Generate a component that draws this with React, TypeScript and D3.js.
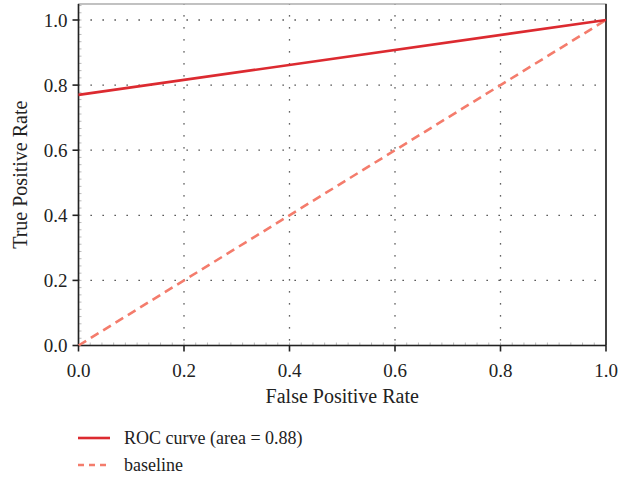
import React from "react";
import * as d3 from "d3";

// ROC curve endpoints (false positive rate, true positive rate)
const rocFpr = [0, 1];
const rocTpr = [0.77, 1];
const baseFpr = [0, 1];
const baseTpr = [0, 1];
const xTicks = [0, 0.2, 0.4, 0.6, 0.8, 1.0];
const yTicks = [0, 0.2, 0.4, 0.6, 0.8, 1.0];
const legendLabels = ["ROC curve (area = 0.88)", "baseline"];

const W = 634;
const H = 478;
const m = { left: 78.5, right: 606, top: 4, bottom: 345.5 };
const FONT = "'Liberation Serif', 'DejaVu Serif', serif";

export default function App() {
  const x = d3.scaleLinear().domain([0, 1]).range([m.left, m.right]);
  const y = d3.scaleLinear().domain([0, 1]).range([m.bottom, 20]);
  const line = d3
    .line<[number, number]>()
    .x((d) => x(d[0]))
    .y((d) => y(d[1]));

  const roc = rocFpr.map((v, i) => [v, rocTpr[i]] as [number, number]);
  const base = baseFpr.map((v, i) => [v, baseTpr[i]] as [number, number]);

  // minor ticks, 9 per major interval
  const minor = d3.range(0, 1.0001, 0.2 / 9);
  const yTop = y.invert(m.top);

  return (
    <svg
      width={W}
      height={H}
      style={{ position: "absolute", left: 0, top: 0, background: "#fff" }}
      fontFamily={FONT}
    >
      {/* grid */}
      {xTicks.slice(1, -1).map((t) => (
        <line
          key={"gx" + t}
          x1={x(t)}
          x2={x(t)}
          y1={m.bottom}
          y2={m.top}
          stroke="#333"
          strokeWidth={1.3}
          strokeDasharray="1.3 10.7"
          strokeDashoffset={-5}
        />
      ))}
      {yTicks.slice(1).map((t) => (
        <line
          key={"gy" + t}
          x1={m.left}
          x2={m.right}
          y1={y(t)}
          y2={y(t)}
          stroke="#333"
          strokeWidth={1.3}
          strokeDasharray="1.3 10.7"
          strokeDashoffset={-12}
        />
      ))}

      {/* minor ticks */}
      {minor.map((t, i) => (
        <line key={"mx" + i} x1={x(t)} x2={x(t)} y1={m.bottom} y2={m.bottom - 3} stroke="#bbb" strokeWidth={1} />
      ))}
      {d3.range(0, yTop, 0.2 / 9).map((t, i) => (
        <line key={"my" + i} x1={m.left} x2={m.left + 3} y1={y(t)} y2={y(t)} stroke="#bbb" strokeWidth={1} />
      ))}

      {/* frame */}
      <rect
        x={m.left}
        y={m.top}
        width={m.right - m.left}
        height={m.bottom - m.top}
        fill="none"
        stroke="#999"
        strokeWidth={1.2}
      />
      <line x1={m.left} x2={m.left} y1={m.top} y2={m.bottom} stroke="#222" strokeWidth={1.6} />
      <line x1={m.left} x2={m.right} y1={m.bottom} y2={m.bottom} stroke="#222" strokeWidth={1.6} />
      <line x1={m.right} x2={m.right} y1={m.top} y2={m.bottom} stroke="#222" strokeWidth={1.6} />

      {/* lines */}
      <path d={line(base) || ""} fill="none" stroke="#f47c6c" strokeWidth={2.6} strokeDasharray="9 5.5" />
      <path d={line(roc) || ""} fill="none" stroke="#dc2a30" strokeWidth={2.6} />

      {/* x axis */}
      {xTicks.map((t) => (
        <g key={"xt" + t}>
          <line x1={x(t)} x2={x(t)} y1={m.bottom} y2={m.bottom + 6} stroke="#222" strokeWidth={1.6} />
          <text x={x(t)} y={m.bottom + 31} textAnchor="middle" fontSize={19} fill="#222">
            {d3.format(".1f")(t)}
          </text>
        </g>
      ))}
      {/* y axis */}
      {yTicks.map((t) => (
        <g key={"yt" + t}>
          <line x1={m.left - 6} x2={m.left} y1={y(t)} y2={y(t)} stroke="#222" strokeWidth={1.6} />
          <text x={m.left - 11} y={y(t) + 6.5} textAnchor="end" fontSize={19} fill="#222">
            {d3.format(".1f")(t)}
          </text>
        </g>
      ))}

      <text x={(m.left + m.right) / 2} y={403} textAnchor="middle" fontSize={20} fill="#222">
        False Positive Rate
      </text>
      <text
        transform={`translate(27,${(m.top + m.bottom) / 2}) rotate(-90)`}
        textAnchor="middle"
        fontSize={20}
        fill="#222"
      >
        True Positive Rate
      </text>

      {/* legend */}
      <line x1={78} x2={110} y1={438} y2={438} stroke="#dc2a30" strokeWidth={2.6} />
      <text x={124} y={444} fontSize={18} fill="#222">
        {legendLabels[0]}
      </text>
      <line x1={78} x2={110} y1={465} y2={465} stroke="#f47c6c" strokeWidth={2.6} strokeDasharray="6 5" />
      <text x={124} y={471} fontSize={18} fill="#222">
        {legendLabels[1]}
      </text>
    </svg>
  );
}
